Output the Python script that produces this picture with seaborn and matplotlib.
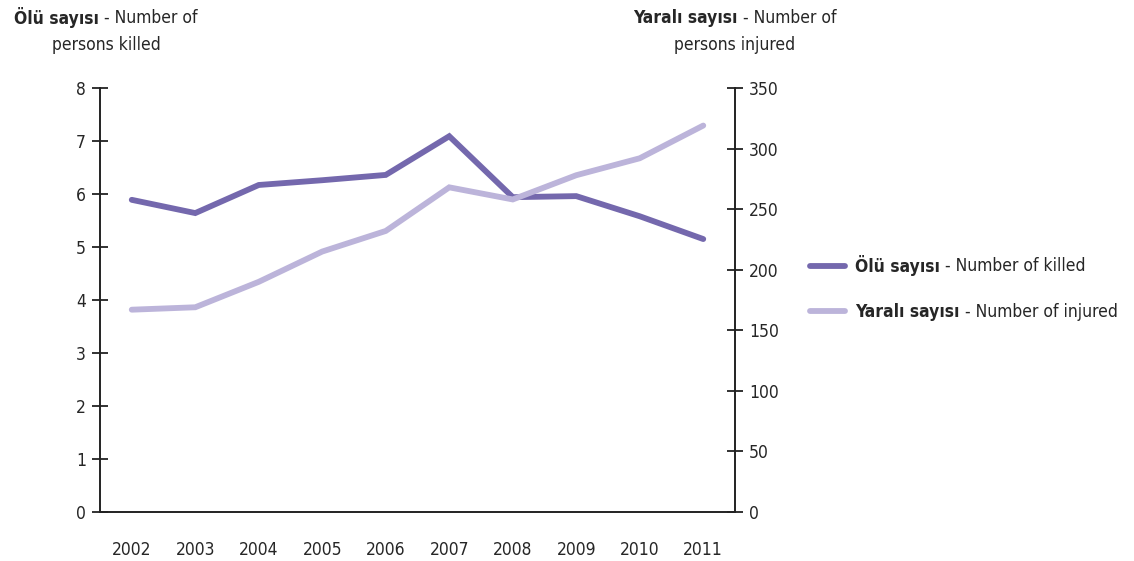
import numpy as np
import pandas as pd
import matplotlib
matplotlib.use("Agg")
import matplotlib.pyplot as plt
import seaborn as sns

# --- data ---
years = [2002, 2003, 2004, 2005, 2006, 2007, 2008, 2009, 2010, 2011]
killed = [5.89, 5.64, 6.17, 6.26, 6.36, 7.09, 5.94, 5.96, 5.58, 5.15]
injured = [167, 169, 190, 215, 232, 268, 258, 278, 292, 319]

left_ticks = [0, 1, 2, 3, 4, 5, 6, 7, 8]
right_ticks = [0, 50, 100, 150, 200, 250, 300, 350]

dark = "#7468ad"
light = "#bcb4da"

sns.set_style("white")
plt.rcParams['font.family'] = ['DejaVu Sans']
plt.rcParams['font.stretch'] = 'condensed'
plt.rcParams['font.size'] = 12.5

df = pd.DataFrame({'year': years, 'killed': killed, 'injured': injured})

fig = plt.figure(figsize=(11.34, 5.61), dpi=100)
ax = fig.add_axes([100 / 1134, 49 / 561, 635 / 1134, 424 / 561])
ax2 = ax.twinx()

sns.lineplot(data=df, x='year', y='killed', ax=ax, color=dark, lw=4.2,
             solid_joinstyle='miter', label='Ölü sayısı', legend=False)
sns.lineplot(data=df, x='year', y='injured', ax=ax2, color=light, lw=4.2,
             solid_joinstyle='miter', label='Yaralı sayısı', legend=False)

ax.set_xlim(years[0] - 0.5, years[-1] + 0.5)
ax.set_ylim(0, 8)
ax2.set_ylim(0, 350)
ax.set_yticks(left_ticks)
ax2.set_yticks(right_ticks)

# x ticks at category boundaries, labels centred between them
ax.set_xticks([y - 0.5 for y in years] + [years[-1] + 0.5])
ax.set_xticklabels([])
ax.set_xticks(years, minor=True)
ax.set_xticklabels([str(y) for y in years], minor=True)
ax.tick_params(axis='x', which='major', direction='inout', length=14, width=1.3, color='#222222')
ax.tick_params(axis='x', which='minor', length=0, pad=21)
ax.tick_params(axis='y', direction='inout', length=12, width=1.3, color='#222222', pad=4)
ax2.tick_params(axis='y', direction='inout', length=12, width=1.3, color='#222222', pad=4)

ax.set_xlabel('')
ax.set_ylabel('')
ax2.set_ylabel('')
for a in (ax, ax2):
    for side, sp in a.spines.items():
        sp.set_color('#222222')
        sp.set_linewidth(1.4)
    a.spines['top'].set_visible(False)
    a.grid(False)
ax2.spines['left'].set_visible(False)
ax2.spines['bottom'].set_visible(False)
ax.spines['right'].set_visible(False)


def two_part(x, y, bold, regular):
    # bold Turkish part followed by regular English part, centred on x
    t1 = fig.text(x, y, bold, fontweight='bold', ha='left', va='center')
    t2 = fig.text(0, 0, ' ' + regular, ha='left', va='center')
    fig.canvas.draw()
    r = fig.canvas.get_renderer()
    w1 = t1.get_window_extent(r).width
    w2 = t2.get_window_extent(r).width
    start = x * fig.bbox.width - (w1 + w2) / 2
    t1.set_position((start / fig.bbox.width, y))
    t2.set_position(((start + w1) / fig.bbox.width, y))


# axis titles
two_part(106 / 1134, 1 - 18 / 561, 'Ölü sayısı', '- Number of')
fig.text(106 / 1134, 1 - 45 / 561, 'persons killed', ha='center', va='center')
two_part(735 / 1134, 1 - 18 / 561, 'Yaralı sayısı', '- Number of')
fig.text(735 / 1134, 1 - 45 / 561, 'persons injured', ha='center', va='center')

# legend
handles = ax.get_lines()[:1] + ax2.get_lines()[:1]
leg = fig.legend(handles, ['Ölü sayısı', 'Yaralı sayısı'], loc='center left',
                 bbox_to_anchor=(810 / 1134, 1 - 288 / 561), frameon=False,
                 borderpad=0, borderaxespad=0,
                 handlelength=2.0, handletextpad=0.6, labelspacing=1.55,
                 prop={'weight': 'bold'})
fig.canvas.draw()
for txt, reg in zip(leg.get_texts(), ['- Number of killed', '- Number of injured']):
    ax.annotate(' ' + reg, xy=(1, 0.5), xycoords=txt, ha='left', va='center',
                annotation_clip=False)

fig.savefig('out.png', dpi=100)
